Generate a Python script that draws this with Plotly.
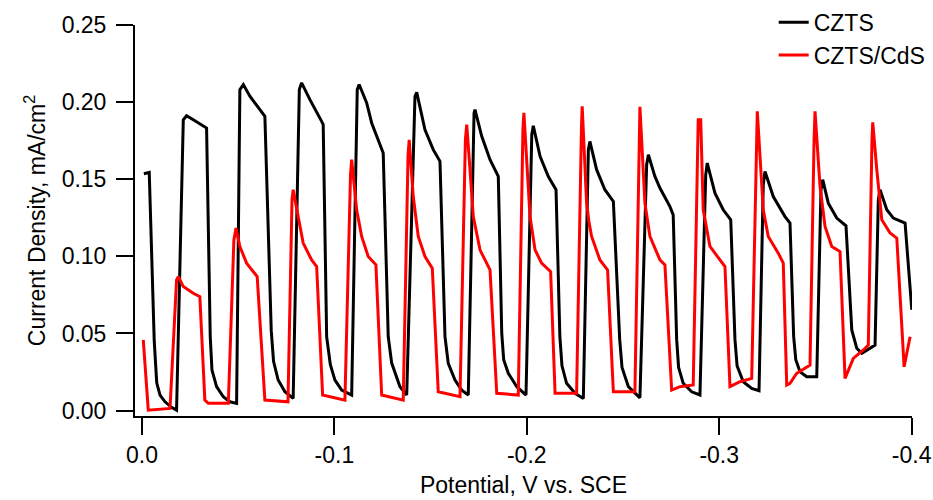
import plotly.graph_objects as go

# Chopped-light linear sweep: potential (V vs. SCE) and current density (mA/cm^2)
czts_potential = [
    -0.0010, -0.0038, -0.0064, -0.0070, -0.0077, -0.0094, -0.0120, -0.0154, -0.0180,
    -0.0215, -0.0232, -0.0267, -0.0336, -0.0355, -0.0364, -0.0388, -0.0423, -0.0457, -0.0492,
    -0.0509, -0.0527, -0.0561, -0.0604, -0.0639, -0.0672, -0.0684, -0.0708, -0.0743, -0.0786,
    -0.0818, -0.0830, -0.0873, -0.0934, -0.0942, -0.0960, -0.0979, -0.1003, -0.1038, -0.1090,
    -0.1119, -0.1129, -0.1168, -0.1194, -0.1246, -0.1254, -0.1280, -0.1298, -0.1341, -0.1376,
    -0.1419, -0.1428, -0.1471, -0.1514, -0.1549, -0.1575, -0.1592, -0.1627, -0.1662, -0.1696,
    -0.1726, -0.1731, -0.1766, -0.1809, -0.1852, -0.1870, -0.1880, -0.1904, -0.1948, -0.1996,
    -0.2026, -0.2034, -0.2069, -0.2112, -0.2152, -0.2172, -0.2183, -0.2207, -0.2251, -0.2294,
    -0.2320, -0.2328, -0.2363, -0.2406, -0.2450, -0.2483, -0.2495, -0.2528, -0.2588,
    -0.2623, -0.2632, -0.2666, -0.2692, -0.2744, -0.2761, -0.2779, -0.2789, -0.2813, -0.2857, -0.2900,
    -0.2930, -0.2938, -0.2978, -0.3021, -0.3060, -0.3082, -0.3093, -0.3125, -0.3169, -0.3207,
    -0.3229, -0.3238, -0.3281, -0.3342, -0.3368, -0.3387, -0.3398, -0.3420, -0.3455, -0.3507,
    -0.3529, -0.3538, -0.3567, -0.3611, -0.3659, -0.3689, -0.3715, -0.3741, -0.3810,
    -0.3827, -0.3836, -0.3871, -0.3905, -0.3966, -0.4001,
]
czts_current = [
    0.1536, 0.1544, 0.0450, 0.0280, 0.0180, 0.0101, 0.0057, 0.0021, 0.0003,
    0.1886, 0.1912, 0.1886, 0.1832, 0.0480, 0.0263, 0.0155, 0.0090, 0.0057, 0.0047,
    0.2081, 0.2114, 0.2038, 0.1962, 0.1908, 0.0520, 0.0320, 0.0198, 0.0122, 0.0079,
    0.2081, 0.2125, 0.2016, 0.1875, 0.1854, 0.0479, 0.0300, 0.0198, 0.0133, 0.0101,
    0.2081, 0.2114, 0.1995, 0.1865, 0.1692, 0.1670, 0.0479, 0.0308, 0.0155, 0.0101,
    0.2038, 0.2064, 0.1821, 0.1692, 0.1616, 0.0479, 0.0306, 0.0198, 0.0133, 0.0101,
    0.1930, 0.1951, 0.1778, 0.1627, 0.1518, 0.0500, 0.0330, 0.0242, 0.0155, 0.0101,
    0.1789, 0.1847, 0.1648, 0.1518, 0.1432, 0.0480, 0.0290, 0.0177, 0.0112, 0.0079,
    0.1692, 0.1745, 0.1562, 0.1432, 0.1356, 0.0460, 0.0280, 0.0155, 0.0083,
    0.1594, 0.1659, 0.1518, 0.1443, 0.1323, 0.1269, 0.0460, 0.0280, 0.0177, 0.0122, 0.0101,
    0.1529, 0.1605, 0.1410, 0.1302, 0.1237, 0.0460, 0.0290, 0.0187, 0.0144, 0.0129,
    0.1464, 0.1551, 0.1388, 0.1258, 0.1216, 0.0480, 0.0330, 0.0252, 0.0219, 0.0219,
    0.1432, 0.1497, 0.1345, 0.1248, 0.1198, 0.0523, 0.0404, 0.0371, 0.0425,
    0.1367, 0.1432, 0.1302, 0.1248, 0.1216, 0.0653,
]

cds_potential = [
    -0.0007, -0.0033, -0.0146, -0.0180, -0.0189, -0.0215, -0.0267, -0.0301, -0.0327, -0.0345, -0.0449,
    -0.0478, -0.0489, -0.0509, -0.0544, -0.0587, -0.0599, -0.0639, -0.0759,
    -0.0780, -0.0786, -0.0812, -0.0838, -0.0882, -0.0908, -0.0939, -0.1055,
    -0.1084, -0.1090, -0.1116, -0.1142, -0.1176, -0.1216, -0.1246, -0.1358,
    -0.1383, -0.1389, -0.1410, -0.1436, -0.1471, -0.1509, -0.1540, -0.1653,
    -0.1681, -0.1688, -0.1705, -0.1722, -0.1757, -0.1809, -0.1844, -0.1956,
    -0.1980, -0.1985, -0.2017, -0.2043, -0.2077, -0.2124, -0.2147, -0.2259,
    -0.2284, -0.2288, -0.2311, -0.2323, -0.2337, -0.2354, -0.2380, -0.2420, -0.2450, -0.2562,
    -0.2583, -0.2588, -0.2614, -0.2640, -0.2692, -0.2718, -0.2753, -0.2796, -0.2865,
    -0.2886, -0.2891, -0.2904, -0.2917, -0.2952, -0.3013, -0.3030, -0.3056, -0.3108, -0.3169,
    -0.3194, -0.3198, -0.3229, -0.3255, -0.3307, -0.3333, -0.3351, -0.3368, -0.3403, -0.3446, -0.3472,
    -0.3493, -0.3498, -0.3524, -0.3550, -0.3585, -0.3628, -0.3654, -0.3671, -0.3697, -0.3749, -0.3775,
    -0.3794, -0.3798, -0.3819, -0.3845, -0.3888, -0.3923, -0.3961, -0.3975, -0.3992,
]
cds_current = [
    0.0458, 0.0003, 0.0014, 0.0847, 0.0869, 0.0804, 0.0761, 0.0739, 0.0068, 0.0047, 0.0047,
    0.1107, 0.1183, 0.1064, 0.0956, 0.0891, 0.0869, 0.0068, 0.0057,
    0.1367, 0.1432, 0.1258, 0.1086, 0.0977, 0.0934, 0.0101, 0.0068,
    0.1529, 0.1627, 0.1302, 0.1129, 0.0999, 0.0945, 0.0101, 0.0068,
    0.1659, 0.1756, 0.1388, 0.1129, 0.0999, 0.0923, 0.0122, 0.0090,
    0.1756, 0.1854, 0.1562, 0.1258, 0.1042, 0.0912, 0.0112, 0.0101,
    0.1821, 0.1930, 0.1258, 0.1042, 0.0956, 0.0901, 0.0112, 0.0112,
    0.1821, 0.1973, 0.1345, 0.1226, 0.1129, 0.1064, 0.0977, 0.0912, 0.0122, 0.0122,
    0.1821, 0.1969, 0.1345, 0.1129, 0.0977, 0.0945, 0.0133, 0.0155, 0.0166,
    0.1756, 0.1886, 0.1886, 0.1302, 0.1064, 0.0966, 0.0934, 0.0155, 0.0187, 0.0209,
    0.1821, 0.1940, 0.1302, 0.1129, 0.1021, 0.0956, 0.0166, 0.0177, 0.0242, 0.0274, 0.0295,
    0.1756, 0.1940, 0.1453, 0.1194, 0.1064, 0.1031, 0.0209, 0.0263, 0.0339, 0.0393, 0.0425,
    0.1756, 0.1869, 0.1562, 0.1237, 0.1151, 0.1118, 0.0284, 0.0371, 0.0479,
]

x_tick_values = [0.0, -0.1, -0.2, -0.3, -0.4]
x_tick_labels = ["0.0", "-0.1", "-0.2", "-0.3", "-0.4"]
y_tick_values = [0.00, 0.05, 0.10, 0.15, 0.20, 0.25]
y_tick_labels = ["0.00", "0.05", "0.10", "0.15", "0.20", "0.25"]

FONT = "Liberation Sans, Arial, sans-serif"
SIZE = 23

fig = go.Figure()
fig.add_trace(go.Scatter(
    x=czts_potential, y=czts_current, mode="lines", name="CZTS",
    line=dict(color="#000000", width=3),
))
fig.add_trace(go.Scatter(
    x=cds_potential, y=cds_current, mode="lines", name="CZTS/CdS",
    line=dict(color="#ff0000", width=3),
))

axis_common = dict(
    showline=True, linecolor="#000000", linewidth=2,
    ticks="outside", ticklen=17, tickwidth=2, tickcolor="#000000",
    showgrid=False, zeroline=False, automargin=False,
    tickfont=dict(family=FONT, size=SIZE, color="#000000"),
)

fig.update_layout(
    width=933, height=500,
    margin=dict(l=135, r=21, t=25, b=84, autoexpand=False),
    paper_bgcolor="white", plot_bgcolor="white",
    font=dict(family=FONT, size=SIZE, color="#000000"),
    xaxis=dict(
        range=[0.0036, -0.4002],
        tickmode="array", tickvals=x_tick_values, ticktext=x_tick_labels,
        title=dict(text="Potential, V vs. SCE", font=dict(family=FONT, size=SIZE), standoff=10),
        **axis_common,
    ),
    yaxis=dict(
        range=[-0.0035, 0.25],
        tickmode="array", tickvals=y_tick_values, ticktext=y_tick_labels,
        title=dict(text="Current Density, mA/cm<sup>2</sup>", font=dict(family=FONT, size=SIZE), standoff=10),
        ticklabelstandoff=5,
        **axis_common,
    ),
    legend=dict(
        x=0.822, y=1.062, xanchor="left", yanchor="top",
        bgcolor="rgba(0,0,0,0)", borderwidth=0,
        font=dict(family=FONT, size=SIZE, color="#000000"),
        tracegroupgap=0, itemwidth=30,
    ),
    showlegend=True,
)

fig.write_html("out.html")
